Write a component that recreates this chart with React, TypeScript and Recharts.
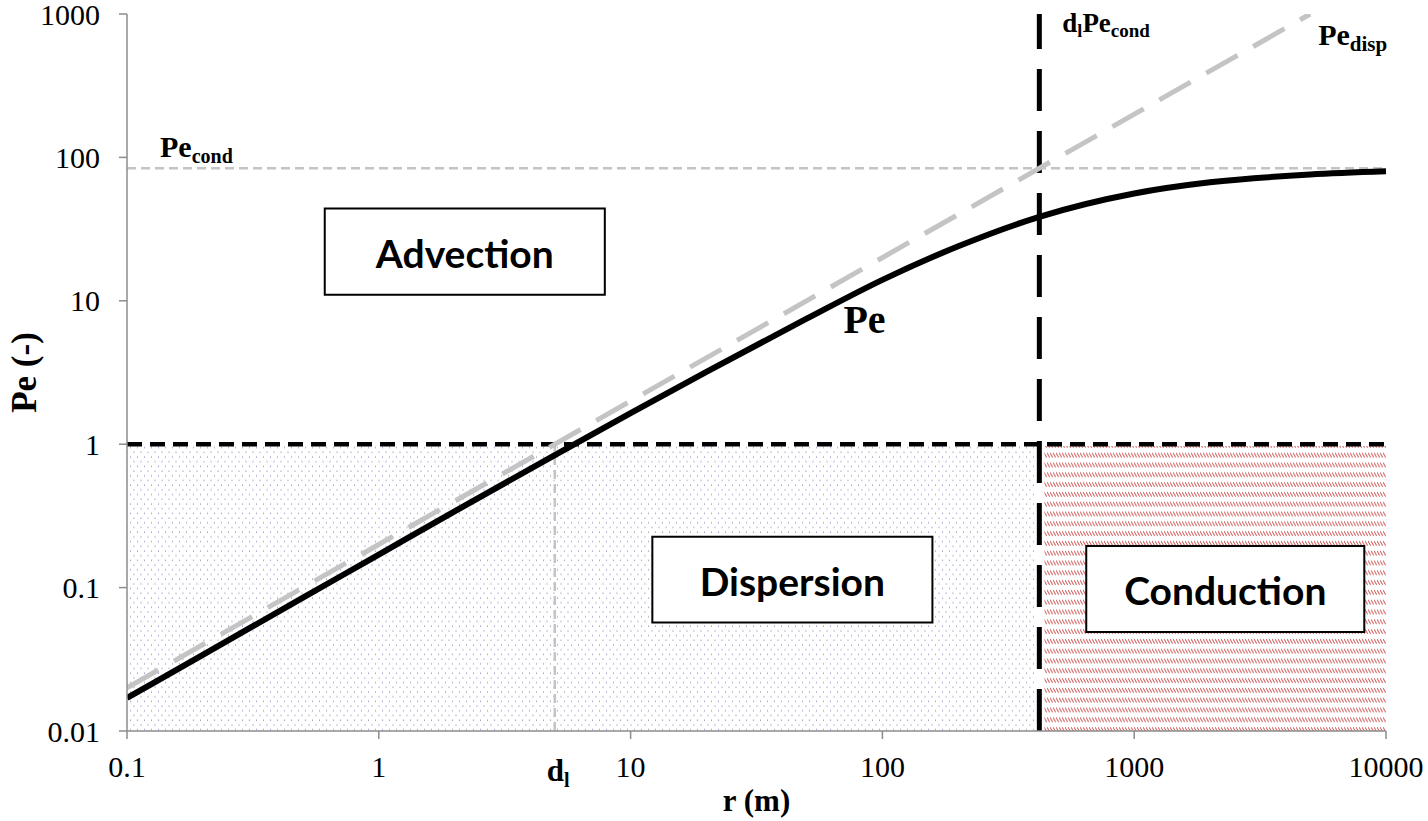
import React from 'react';
import { LineChart, Line, XAxis, YAxis, ReferenceLine, ReferenceArea, ReferenceDot } from 'recharts';

const rValues = [0.1, 0.2, 0.5, 1, 2, 5, 10, 20, 50, 100, 200, 420, 1000, 2000, 5000, 10000];
const peValues = [0.017, 0.034, 0.085, 0.17, 0.34, 0.84, 1.65, 3.2, 7.5, 14, 24, 38.5, 56, 67, 76, 80];

// dispersive asymptote Pe_disp (straight in log-log)
const dispR = [0.1, 5000];
const dispPe = [0.02, 1000];

const xTicks = [0.1, 1, 10, 100, 1000, 10000];
const yTicks = [0.01, 0.1, 1, 10, 100, 1000];

// characteristic values
const peCond = 84;
const dl = 5;
const dlPeCond = 420;

// regime boxes: [x1, x2, y1, y2]
const boxAdvection = [0.61, 7.9, 11, 44];
const boxDispersion = [12.2, 158, 0.057, 0.226];
const boxConduction = [645, 8200, 0.049, 0.195];

const peData = rValues.map((r, i) => ({ r, pe: peValues[i] }));
const dispData = dispR.map((r, i) => ({ r, pd: dispPe[i] }));

const serif = "'Times New Roman', 'Liberation Serif', serif";
const sans = "Lato, 'Open Sans', sans-serif";
const axisGray = '#8c8c8c';
const lightGray = '#c4c4c4';

const XTick = (props: any) => {
  const { x, y, payload } = props;
  return (
    <text x={x} y={y + 28} textAnchor="middle" fontFamily={serif} fontSize={30} fill="#000">
      {String(payload.value)}
    </text>
  );
};

const YTick = (props: any) => {
  const { x, y, payload } = props;
  return (
    <text x={x - 1} y={y} textAnchor="end" dominantBaseline="central" fontFamily={serif} fontSize={30} fill="#000">
      {String(payload.value)}
    </text>
  );
};

const boxLabel = (text: string) => (props: any) => {
  const vb = props.viewBox || {};
  return (
    <text
      x={vb.x + vb.width / 2}
      y={vb.y + vb.height / 2 + 1}
      textAnchor="middle"
      dominantBaseline="central"
      fontFamily={sans}
      fontWeight={700}
      fontSize={39}
      fill="#000"
    >
      {text}
    </text>
  );
};

export default function App() {
  return (
    <div style={{ position: 'absolute', left: 0, top: 0, width: 1428, height: 821, background: '#fff', fontFamily: serif }}>
      <LineChart width={1428} height={821} margin={{ top: 14, right: 42, left: 0, bottom: 0 }}>
        <defs>
          <pattern id="dots" patternUnits="userSpaceOnUse" width="7" height="9.4">
            <circle cx="1" cy="1" r="0.6" fill="#4a5894" />
            <circle cx="4.5" cy="5.7" r="0.6" fill="#4a5894" />
          </pattern>
          <pattern id="hatch" patternUnits="userSpaceOnUse" width="3" height="9.8">
            <line x1="0" y1="2" x2="2.6" y2="6.5" stroke="#d05a5a" strokeWidth="1" />
          </pattern>
        </defs>
        <XAxis
          dataKey="r"
          type="number"
          scale="log"
          domain={[0.1, 10000]}
          ticks={xTicks}
          allowDataOverflow
          height={90}
          stroke={axisGray}
          strokeWidth={1.5}
          tickSize={8}
          tickMargin={10}
          tick={<XTick />}
          label={(props: any) => {
            const vb = props.viewBox || {};
            return (
              <text x={vb.x + vb.width / 2} y={811} textAnchor="middle" fontFamily={serif} fontWeight={700} fontSize={31} fill="#000">
                r (m)
              </text>
            );
          }}
        />
        <YAxis
          type="number"
          scale="log"
          domain={[0.01, 1000]}
          ticks={yTicks}
          allowDataOverflow
          width={127}
          stroke={axisGray}
          strokeWidth={1.5}
          tickSize={8}
          tickMargin={18}
          tick={<YTick />}
          label={(props: any) => {
            const vb = props.viewBox || {};
            const cy = vb.y + vb.height / 2;
            return (
              <text
                x={24}
                y={cy}
                transform={`rotate(-90, 24, ${cy})`}
                textAnchor="middle"
                dominantBaseline="central"
                fontFamily={serif}
                fontWeight={700}
                fontSize={35}
                fill="#000"
              >
                Pe (-)
              </text>
            );
          }}
        />

        <ReferenceArea x1={0.1} x2={400} y1={0.01} y2={0.97} fill="url(#dots)" fillOpacity={0.85} stroke="none" />
        <ReferenceArea x1={440} x2={10000} y1={0.01} y2={0.97} fill="url(#hatch)" fillOpacity={1} stroke="none" />

        <ReferenceArea
          x1={boxAdvection[0]} x2={boxAdvection[1]} y1={boxAdvection[2]} y2={boxAdvection[3]}
          fill="#fff" fillOpacity={1} stroke="#000" strokeWidth={2} label={boxLabel('Advection')}
        />
        <ReferenceArea
          x1={boxDispersion[0]} x2={boxDispersion[1]} y1={boxDispersion[2]} y2={boxDispersion[3]}
          fill="#fff" fillOpacity={1} stroke="#000" strokeWidth={2} label={boxLabel('Dispersion')}
        />
        <ReferenceArea
          x1={boxConduction[0]} x2={boxConduction[1]} y1={boxConduction[2]} y2={boxConduction[3]}
          fill="#fff" fillOpacity={1} stroke="#000" strokeWidth={2} label={boxLabel('Conduction')}
        />

        <ReferenceLine
          y={peCond}
          stroke={lightGray}
          strokeWidth={2.5}
          strokeDasharray="9 5"
          label={(props: any) => {
            const vb = props.viewBox || {};
            return (
              <text x={vb.x + 33} y={vb.y - 11} fontFamily={serif} fontWeight={700} fontSize={30} fill="#000">
                Pe<tspan fontSize={20} dy={6}>cond</tspan>
              </text>
            );
          }}
        />
        <ReferenceLine
          segment={[{ x: dl, y: 0.01 }, { x: dl, y: 1 }]}
          stroke={lightGray}
          strokeWidth={2.5}
          strokeDasharray="9 5"
        />
        <ReferenceLine y={1} stroke="#000" strokeWidth={4.5} strokeDasharray="15 8" />
        <ReferenceLine
          x={dlPeCond}
          stroke="#000"
          strokeWidth={5}
          strokeDasharray="42 20"
          label={(props: any) => {
            const vb = props.viewBox || {};
            return (
              <text x={vb.x + 23} y={32} fontFamily={serif} fontWeight={700} fontSize={27} fill="#000">
                d<tspan fontSize={18} dy={5}>l</tspan>
                <tspan dy={-5}>Pe</tspan>
                <tspan fontSize={19} dy={5}>cond</tspan>
              </text>
            );
          }}
        />

        <Line
          data={dispData}
          dataKey="pd"
          type="linear"
          stroke={lightGray}
          strokeWidth={5}
          strokeDasharray="36 18"
          dot={false}
          activeDot={false}
          isAnimationActive={false}
        />
        <Line
          data={peData}
          dataKey="pe"
          type="monotone"
          stroke="#000"
          strokeWidth={6}
          dot={false}
          activeDot={false}
          isAnimationActive={false}
        />

        <ReferenceDot
          x={dispR[1]}
          y={dispPe[1]}
          r={0}
          fill="none"
          stroke="none"
          ifOverflow="visible"
          label={(props: any) => {
            const vb = props.viewBox || {};
            return (
              <text x={vb.x + 8} y={vb.y + 31} fontFamily={serif} fontWeight={700} fontSize={30} fill="#000">
                Pe<tspan fontSize={21} dy={6}>disp</tspan>
              </text>
            );
          }}
        />
        <ReferenceDot
          x={70}
          y={6}
          r={0}
          fill="none"
          stroke="none"
          label={(props: any) => {
            const vb = props.viewBox || {};
            return (
              <text x={vb.x} y={vb.y} fontFamily={serif} fontWeight={700} fontSize={40} fill="#000">
                Pe
              </text>
            );
          }}
        />
        <ReferenceDot
          x={dl}
          y={0.01}
          r={0}
          fill="none"
          stroke="none"
          ifOverflow="visible"
          label={(props: any) => {
            const vb = props.viewBox || {};
            return (
              <text x={vb.x - 8} y={vb.y + 50} fontFamily={serif} fontWeight={700} fontSize={31} fill="#000">
                d<tspan fontSize={20} dy={6}>l</tspan>
              </text>
            );
          }}
        />
      </LineChart>
    </div>
  );
}
